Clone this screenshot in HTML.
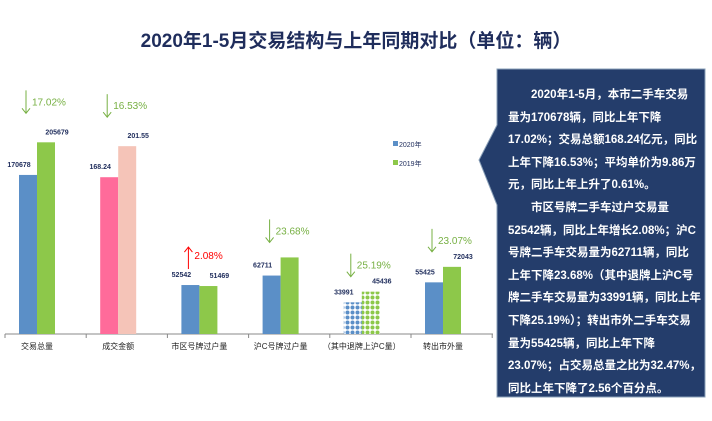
<!DOCTYPE html>
<html><head><meta charset="utf-8"><style>
body{margin:0;width:712px;height:421px;background:#fff;overflow:hidden;font-family:"Liberation Sans","Noto Sans CJK SC",sans-serif;position:relative}
#title{position:absolute;left:0;top:26px;width:712px;text-align:center;font-size:19px;font-weight:bold;color:#1f2d5c}
#panel{position:absolute;left:508px;top:84px;width:195px;color:#fff;font-weight:bold;font-size:11.5px;line-height:22.6px;white-space:nowrap}
#panel div{height:22.6px}
</style></head><body>
<div id="title">2020年1-5月交易结构与上年同期对比（单位：辆）</div>
<svg width="712" height="421" style="position:absolute;left:0;top:0">
<defs>
<pattern id="pb" width="5" height="5" patternUnits="userSpaceOnUse"><rect width="5" height="5" fill="#fff"/><circle cx="2.5" cy="2.5" r="2" fill="#5b8fc7"/></pattern>
<pattern id="pg" width="5" height="5" patternUnits="userSpaceOnUse"><rect width="5" height="5" fill="#fff"/><circle cx="2.5" cy="2.5" r="2" fill="#8dc84a"/></pattern>
</defs>
<polygon points="497,69 705,69 705,397 497,397 497,205 479,160 497,125" fill="#243d6b" stroke="#8aa0b8" stroke-width="1"/>
<g id="plot"></g>
</svg>
<div id="panel">
<div>　　2020年1-5月，本市二手车交易</div>
<div>量为170678辆，同比上年下降</div>
<div>17.02%；交易总额168.24亿元，同比</div>
<div>上年下降16.53%；平均单价为9.86万</div>
<div>元，同比上年上升了0.61%。</div>
<div>　　市区号牌二手车过户交易量</div>
<div>52542辆，同比上年增长2.08%；沪C</div>
<div>号牌二手车交易量为62711辆，同比</div>
<div>上年下降23.68%（其中退牌上沪C号</div>
<div>牌二手车交易量为33991辆，同比上年</div>
<div>下降25.19%）；转出市外二手车交易</div>
<div>量为55425辆，同比上年下降</div>
<div>23.07%；占交易总量之比为32.47%，</div>
<div>同比上年下降了2.56个百分点。</div>
</div>
<script>
const categories=["交易总量","成交金额","市区号牌过户量","沪C号牌过户量","（其中退牌上沪C量）","转出市外量"];
const values2020=[170678,168.24,52542,62711,33991,55425];
const values2019=[205679,201.55,51469,82170,45436,72043];
const labels2020=["170678","168.24","52542","62711","33991","55425"];
const labels2019=["205679","201.55","51469","","45436","72043"];
const changes=["17.02%","16.53%","2.08%","23.68%","25.19%","23.07%"];
const changeUp=[false,false,true,false,false,false];
const amountScale=[1,1000,1,1,1,1];
const NS="http://www.w3.org/2000/svg";
const g=document.getElementById('plot');
const base=334,pxPer=1/1073;
const y=v=>base-v*pxPer;
const cx=i=>37+81.2*i;
function mk(t,a,p){const e=document.createElementNS(NS,t);for(const k in a)e.setAttribute(k,a[k]);(p||g).appendChild(e);return e;}
const ax=mk('line',{x1:5,y1:base,x2:493,y2:base,stroke:'#888'});


for(let i=0;i<=6;i++){const t=mk('line',{x1:5+81.2*i,y1:base,x2:5+81.2*i,y2:base+4,stroke:'#888'});

}
categories.forEach((c,i)=>{
 const v0=values2020[i]*amountScale[i],v1=values2019[i]*amountScale[i];
 const c0=i==1?'#ff6b9a':(i==4?'url(#pb)':'#5b8fc7');
 const c1=i==1?'#f5c4b8':(i==4?'url(#pg)':'#8dc84a');
 const b0=mk('rect',{x:cx(i)-18,y:y(v0),width:18,height:base-y(v0),fill:c0});
 
 
 const b1=mk('rect',{x:cx(i),y:y(v1),width:18,height:base-y(v1),fill:c1});
 
 
 const l0=mk('text',{x:cx(i)-18,y:y(v0)-8,'font-size':7,fill:'#1f2d5c','font-weight':'bold','text-anchor':'middle'});l0.textContent=labels2020[i];
 
 
 const l1=mk('text',{x:cx(i)+20,y:y(v1)-8,'font-size':7,fill:'#1f2d5c','font-weight':'bold','text-anchor':'middle'});l1.textContent=labels2019[i];
 
 
 const top=Math.min(y(v0),y(v1))-(i==0||i==1?34:(i==2?38:20));
 const col=changeUp[i]?'#f00':'#77b043';
 const ax0=cx(i)-11;
 if(changeUp[i]){mk('line',{x1:ax0,y1:top+22,x2:ax0,y2:top,stroke:col});mk('polyline',{points:`${ax0-4},${top+5} ${ax0},${top} ${ax0+4},${top+5}`,fill:'none',stroke:col});}
 else{mk('line',{x1:ax0,y1:top-18,x2:ax0,y2:top+5,stroke:col});mk('polyline',{points:`${ax0-4},${top} ${ax0},${top+5} ${ax0+4},${top}`,fill:'none',stroke:col});}
 const ct=mk('text',{x:ax0+6,y:changeUp[i]?top+12:top-3,'font-size':10,fill:col});ct.textContent=changes[i];
 
 
 const cl=mk('text',{x:cx(i),y:349,'font-size':8,fill:'#222','text-anchor':'middle'});cl.textContent=c;
 
 
});
[['2020年','#5b8fc7',147],['2019年','#8dc84a',166]].forEach(d=>{
 const r=mk('rect',{x:393,y:d[2]-6,width:5,height:5,fill:d[1]});
 
 
 const t=mk('text',{x:399,y:d[2],'font-size':7,fill:'#1f2d5c'});t.textContent=d[0];
 
 
});
</script>
</body></html>
